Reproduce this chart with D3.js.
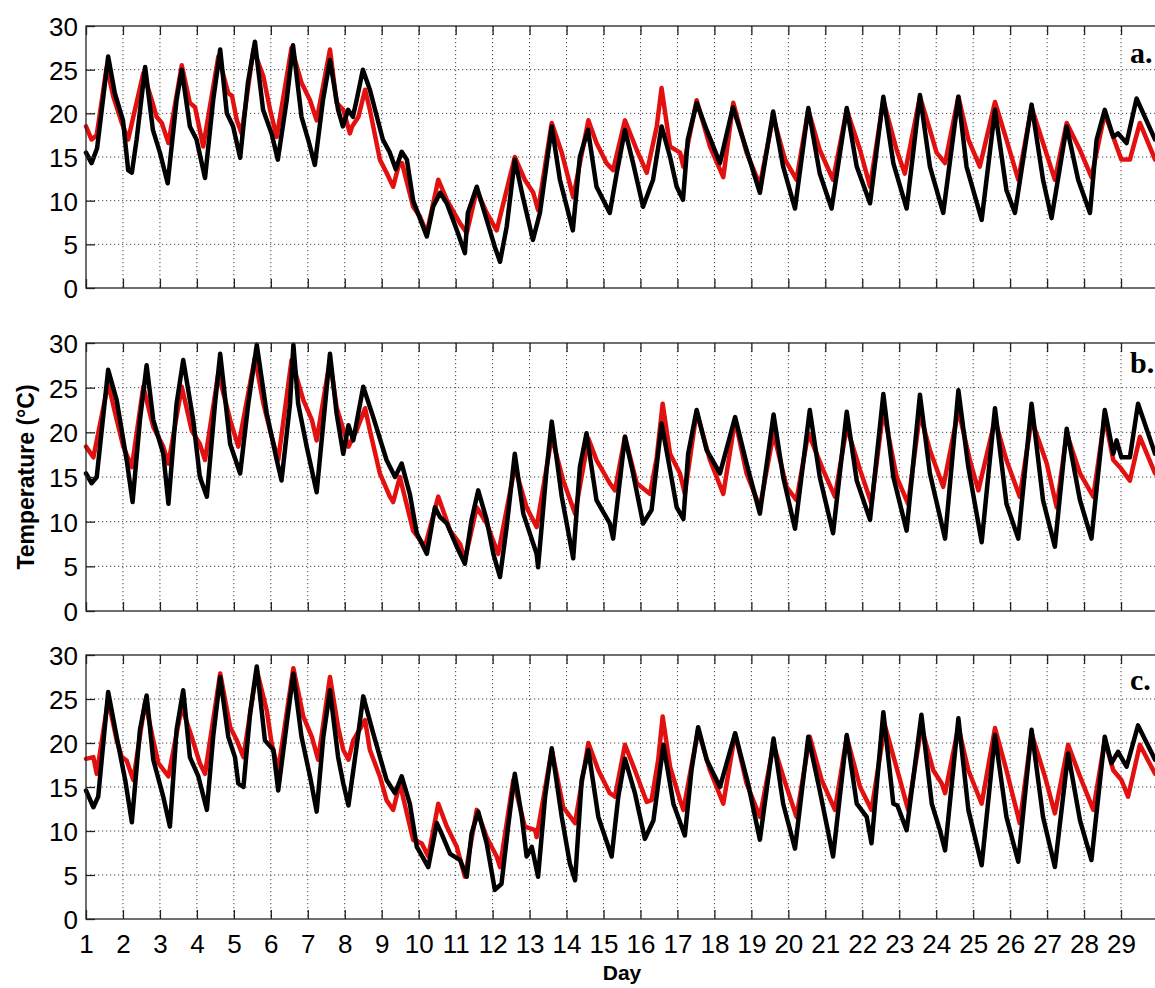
<!DOCTYPE html>
<html>
<head>
<meta charset="utf-8">
<script src="https://cdn.jsdelivr.net/npm/d3@7"></script>
<style>
  html, body { margin: 0; padding: 0; background: #fff; }
  svg { display: block; }
</style>
</head>
<body>
<svg id="chart" width="1155" height="988"></svg>
<script>
// ---------------- DATA ----------------
const dayTicks = [1,2,3,4,5,6,7,8,9,10,11,12,13,14,15,16,17,18,19,20,21,22,23,24,25,26,27,28,29];
const tempTicks = [0,5,10,15,20,25,30];
const panelLabels = ["a.", "b.", "c."];

// Panel a
const aBlackDay = [1.00,1.15,1.30,1.60,1.78,2.00,2.14,2.24,2.37,2.60,2.81,3.00,3.21,3.45,3.59,3.81,3.99,4.22,4.44,4.63,4.81,4.98,5.17,5.38,5.57,5.79,6.02,6.19,6.43,6.60,6.83,7.01,7.19,7.41,7.60,7.82,7.95,8.09,8.22,8.32,8.49,8.68,9.03,9.22,9.38,9.54,9.68,9.85,10.22,10.39,10.58,10.76,10.93,11.06,11.25,11.33,11.57,11.84,12.06,12.20,12.38,12.60,12.82,13.09,13.28,13.60,13.82,14.17,14.36,14.58,14.81,15.17,15.36,15.58,15.80,16.07,16.34,16.57,16.80,16.98,17.15,17.28,17.52,17.79,18.15,18.50,18.87,19.23,19.59,19.86,20.18,20.54,20.85,21.17,21.58,21.85,22.21,22.57,22.84,23.20,23.56,23.83,24.19,24.60,24.82,25.23,25.59,25.90,26.13,26.58,26.89,27.12,27.53,27.84,28.16,28.34,28.56,28.79,28.92,29.15,29.42,29.92];
const aBlackVal = [15.5,14.3,16.0,26.5,22.3,19.2,13.5,13.2,17.0,25.3,18.1,15.5,12.0,21.5,25.0,18.5,17.0,12.6,21.5,27.3,20.0,18.5,14.9,23.5,28.2,20.4,17.7,14.7,21.5,27.8,19.6,17.0,14.1,21.5,26.1,20.4,18.5,20.4,19.6,21.5,25.0,22.7,17.0,15.5,13.6,15.6,14.7,10.0,5.9,9.3,10.9,9.7,7.8,6.3,4.0,8.6,11.6,7.8,4.7,3.0,7.0,14.7,10.4,5.5,8.6,18.5,12.4,6.6,15.0,18.1,11.6,8.6,13.2,18.1,14.3,9.3,12.4,18.5,15.0,11.6,10.1,17.0,21.2,18.1,14.3,20.7,15.8,10.9,20.2,13.9,9.1,20.6,13.1,9.1,20.6,13.9,9.7,21.9,14.3,9.1,22.1,13.9,8.6,21.9,13.9,7.8,20.4,11.2,8.6,21.0,12.4,8.0,18.5,12.4,8.6,17.0,20.4,17.3,17.7,16.6,21.7,17.0];
const aRedDay = [1.00,1.15,1.29,1.56,1.74,1.97,2.14,2.55,2.78,2.91,3.05,3.23,3.59,3.81,3.95,4.17,4.58,4.85,4.95,5.08,5.21,5.53,5.80,5.98,6.16,6.56,6.83,7.06,7.24,7.60,7.78,7.96,8.14,8.20,8.37,8.55,8.68,8.95,9.13,9.31,9.45,9.55,9.85,10.03,10.22,10.53,10.76,11.12,11.30,11.57,11.84,12.11,12.60,12.87,13.10,13.23,13.60,13.87,14.18,14.59,14.81,15.08,15.26,15.58,15.90,16.17,16.44,16.57,16.80,17.07,17.16,17.52,17.88,18.24,18.51,18.87,19.23,19.59,19.91,20.22,20.54,20.85,21.21,21.58,21.94,22.21,22.57,22.93,23.15,23.56,23.83,24.01,24.24,24.60,24.87,25.18,25.59,25.90,26.22,26.58,26.89,27.21,27.53,27.89,28.20,28.56,28.88,29.01,29.24,29.51,29.92];
const aRedVal = [18.5,17.0,17.5,25.3,21.9,18.9,17.0,24.6,21.5,19.6,18.9,16.6,25.5,21.2,20.7,16.2,26.5,22.3,22.0,19.2,17.7,27.3,24.2,20.4,17.3,27.5,23.5,21.5,19.2,27.3,21.2,20.4,17.7,18.5,19.6,22.7,20.4,14.7,13.2,11.6,13.9,14.3,9.3,8.2,6.3,12.4,10.1,7.4,6.3,11.2,8.6,6.6,15.0,12.4,10.9,8.9,18.9,15.5,10.4,19.2,16.6,14.3,13.5,19.2,15.8,13.2,18.5,22.9,16.2,15.5,13.9,21.5,16.2,12.7,21.2,15.5,11.8,19.6,14.7,12.4,20.4,15.8,12.4,20.4,15.8,11.6,21.5,15.8,13.1,21.9,18.1,15.5,14.3,21.9,17.0,13.9,21.3,17.0,12.4,20.7,16.6,12.4,18.9,15.8,12.7,20.0,16.2,14.7,14.7,18.9,14.7];

// Panel b
const bBlackDay = [1.00,1.15,1.29,1.60,1.83,2.10,2.26,2.46,2.64,2.82,3.09,3.23,3.45,3.63,3.90,4.08,4.27,4.49,4.63,4.90,5.17,5.39,5.62,5.89,6.16,6.29,6.52,6.61,6.74,6.97,7.24,7.47,7.60,7.78,7.96,8.10,8.23,8.50,8.77,9.13,9.36,9.54,9.76,9.95,10.22,10.44,10.58,10.76,11.03,11.25,11.43,11.61,11.84,12.02,12.20,12.38,12.60,12.83,13.19,13.23,13.46,13.60,13.87,14.18,14.36,14.54,14.81,15.17,15.26,15.58,15.80,16.07,16.30,16.57,16.80,16.98,17.16,17.29,17.52,17.79,18.15,18.56,18.87,19.23,19.60,19.86,20.18,20.58,20.85,21.21,21.58,21.85,22.21,22.57,22.84,23.20,23.56,23.83,24.24,24.60,24.87,25.23,25.59,25.90,26.22,26.58,26.89,27.21,27.53,27.89,28.20,28.56,28.79,28.88,29.01,29.24,29.46,29.92];
const bBlackVal = [15.4,14.3,15.0,27.0,23.6,16.9,12.2,21.4,27.5,21.4,17.6,12.0,23.2,28.1,21.4,15.0,12.8,23.2,28.8,18.7,15.4,23.2,29.8,22.1,16.9,14.6,23.2,29.8,23.2,18.4,13.3,23.2,28.8,22.1,17.6,20.8,19.1,25.1,21.7,16.9,15.0,16.5,13.1,8.7,6.4,11.6,10.5,9.8,7.2,5.3,10.2,13.5,10.2,6.4,3.8,9.4,17.6,10.9,6.4,4.9,15.8,21.2,12.8,5.9,16.1,19.9,12.4,9.8,8.1,19.5,15.4,9.8,11.3,21.0,15.8,11.6,10.3,17.6,22.5,18.0,15.4,21.7,16.5,10.9,22.0,15.0,9.2,22.5,15.0,8.7,22.3,14.6,10.2,24.3,15.0,9.0,24.2,15.4,8.1,24.7,16.1,7.7,22.7,12.0,8.1,23.2,12.4,7.2,20.4,12.4,8.1,22.5,17.6,19.1,17.2,17.2,23.2,17.6];
const bRedDay = [1.00,1.20,1.60,1.83,2.01,2.24,2.55,2.82,3.09,3.23,3.59,3.86,4.08,4.22,4.58,4.90,5.12,5.57,5.80,5.98,6.20,6.56,6.88,7.11,7.24,7.60,7.78,8.10,8.32,8.55,8.68,8.95,9.22,9.31,9.49,9.85,10.17,10.53,10.85,11.12,11.25,11.57,11.84,12.15,12.60,12.92,13.19,13.60,13.91,14.23,14.59,14.81,15.17,15.31,15.58,15.90,16.26,16.44,16.60,16.80,17.07,17.20,17.52,17.88,18.24,18.56,18.87,19.23,19.60,19.95,20.22,20.54,20.94,21.26,21.58,21.94,22.25,22.57,22.93,23.24,23.56,23.83,24.19,24.60,24.91,25.14,25.59,25.90,26.26,26.58,26.99,27.26,27.53,27.89,28.25,28.56,28.79,28.97,29.24,29.51,29.92];
const bRedVal = [18.4,17.2,25.5,21.4,18.4,16.1,25.1,20.6,18.4,16.5,25.1,20.2,18.7,16.9,26.6,21.4,18.4,28.4,23.2,20.2,16.9,28.1,23.6,21.4,19.1,28.1,22.8,18.4,20.2,22.7,20.2,15.4,12.8,12.2,15.0,9.0,7.2,12.8,9.0,7.5,5.7,11.6,9.8,6.4,16.1,11.6,9.4,19.5,14.6,10.9,19.3,16.9,14.3,13.5,19.5,14.3,13.1,17.2,23.2,17.6,15.4,13.1,22.3,16.9,13.1,21.4,15.4,11.6,19.9,13.9,12.4,19.9,15.8,12.8,20.6,15.8,12.0,22.5,15.0,12.0,22.1,18.0,13.9,22.5,16.9,13.5,21.4,16.9,12.8,21.4,16.5,11.6,19.9,15.4,12.8,21.7,16.9,16.1,14.6,19.5,15.4];

// Panel c
const cBlackDay = [1.00,1.20,1.33,1.60,1.83,2.06,2.24,2.46,2.64,2.82,3.09,3.27,3.45,3.63,3.81,4.04,4.27,4.44,4.63,4.85,5.03,5.12,5.26,5.44,5.62,5.84,6.07,6.20,6.43,6.61,6.83,7.06,7.24,7.42,7.60,7.82,7.96,8.10,8.32,8.50,8.77,9.13,9.36,9.54,9.76,9.95,10.26,10.49,10.62,10.85,11.12,11.30,11.43,11.61,11.84,12.06,12.24,12.42,12.60,12.79,12.92,13.06,13.23,13.42,13.60,13.87,14.09,14.23,14.41,14.59,14.86,15.22,15.40,15.58,15.85,16.12,16.35,16.62,16.89,17.20,17.38,17.56,17.79,18.15,18.56,18.91,19.23,19.60,19.86,20.18,20.54,20.85,21.21,21.58,21.85,22.12,22.25,22.57,22.84,22.95,23.20,23.60,23.88,24.10,24.24,24.60,24.87,25.23,25.59,25.90,26.22,26.58,26.89,27.21,27.57,27.89,28.20,28.56,28.74,28.92,29.15,29.46,29.92];
const cBlackVal = [14.6,12.7,13.9,25.8,20.7,15.8,11.0,21.5,25.4,18.1,13.9,10.5,21.5,26.0,18.4,16.2,12.4,20.7,27.5,20.7,18.4,15.4,15.0,23.4,28.7,20.3,19.2,14.6,22.2,27.9,20.7,16.2,12.2,20.7,26.0,18.4,15.4,12.9,19.6,25.3,21.1,15.8,14.3,16.2,13.1,8.2,5.9,10.9,9.7,7.4,6.7,4.8,9.7,12.2,8.6,3.3,4.0,10.5,16.5,11.6,7.1,8.2,4.8,13.9,19.4,11.6,6.3,4.4,15.8,19.2,11.6,7.1,13.9,18.2,14.3,9.1,11.2,19.8,13.1,9.5,16.9,21.8,18.1,15.0,21.1,15.4,9.0,20.5,13.1,8.0,20.7,14.6,7.1,20.9,13.1,11.6,8.6,23.5,13.1,12.9,10.1,23.2,13.1,10.1,7.8,22.8,12.4,6.1,20.9,11.6,6.5,21.5,11.6,5.9,18.8,11.2,6.7,20.7,17.7,19.0,17.3,22.0,18.1];
const cRedDay = [1.00,1.20,1.29,1.60,1.83,1.97,2.10,2.28,2.60,2.82,2.96,3.23,3.59,3.86,4.08,4.22,4.63,4.90,5.08,5.26,5.62,5.89,6.02,6.20,6.61,6.88,7.11,7.28,7.60,7.82,7.96,8.10,8.23,8.55,8.68,8.95,9.13,9.31,9.49,9.85,10.08,10.26,10.53,10.76,11.03,11.25,11.57,11.84,12.11,12.20,12.56,12.87,13.15,13.19,13.60,13.91,14.23,14.59,14.86,15.17,15.31,15.58,15.85,16.17,16.30,16.48,16.60,16.80,17.07,17.16,17.56,17.88,18.24,18.56,18.87,19.23,19.60,19.86,20.22,20.58,20.90,21.26,21.58,21.94,22.25,22.61,23.02,23.24,23.60,23.92,24.15,24.24,24.60,24.87,25.23,25.59,25.90,26.26,26.58,26.94,27.21,27.57,27.89,28.25,28.56,28.79,29.01,29.19,29.51,29.92];
const cRedVal = [18.2,18.4,16.5,24.9,20.3,18.4,18.0,15.8,24.7,20.3,17.7,16.2,24.1,20.7,17.7,16.5,27.9,21.8,20.3,18.4,28.3,23.7,20.0,16.9,28.5,23.0,20.7,18.1,27.5,21.8,19.2,18.1,20.3,22.6,19.2,16.2,13.5,12.4,15.4,9.0,8.6,7.1,13.1,10.5,8.2,4.8,12.4,9.3,7.1,5.9,15.8,10.5,10.1,9.3,19.2,12.7,10.9,20.0,16.9,14.3,13.9,19.8,16.9,13.3,13.5,18.1,23.0,17.3,13.5,12.4,21.5,16.9,13.1,21.1,15.4,11.6,19.8,16.2,11.6,20.7,15.8,12.4,20.7,15.0,12.4,22.0,15.8,12.4,21.8,16.9,15.4,14.3,21.8,16.9,13.1,21.7,16.9,10.9,21.1,16.2,12.0,19.8,16.2,12.4,20.3,16.9,15.8,13.9,19.8,16.5];

// ---------------- CHART ----------------
const svg = d3.select("#chart");
svg.append("rect").attr("width", 1155).attr("height", 988).attr("fill", "#fff");

const xLeft = 86, xRight = 1158;
const x = d3.scaleLinear().domain([1, 30]).range([xLeft, xRight]);

const panels = [
  { top: 26,  bottom: 288, black: [aBlackDay, aBlackVal], red: [aRedDay, aRedVal], label: panelLabels[0], labelY: 63, showX: false },
  { top: 343, bottom: 611, black: [bBlackDay, bBlackVal], red: [bRedDay, bRedVal], label: panelLabels[1], labelY: 373, showX: false },
  { top: 655, bottom: 919, black: [cBlackDay, cBlackVal], red: [cRedDay, cRedVal], label: panelLabels[2], labelY: 690, showX: true }
];

const gridColor = "#444";
const font = "'Liberation Sans', Arial, Helvetica, sans-serif";

panels.forEach(p => {
  const y = d3.scaleLinear().domain([0, 30]).range([p.bottom, p.top]);
  const g = svg.append("g");

  // grid (dotted)
  g.append("g").selectAll("line").data(dayTicks.slice(1)).join("line")
    .attr("x1", d => x(d)).attr("x2", d => x(d))
    .attr("y1", p.top).attr("y2", p.bottom)
    .attr("stroke", gridColor).attr("stroke-width", 1).attr("stroke-dasharray", "1.2,2.8");
  g.append("g").selectAll("line").data(tempTicks.slice(1, -1)).join("line")
    .attr("x1", xLeft).attr("x2", xRight)
    .attr("y1", d => y(d)).attr("y2", d => y(d))
    .attr("stroke", gridColor).attr("stroke-width", 1).attr("stroke-dasharray", "1.2,2.8");

  // lines
  const mkLine = (days, vals) => d3.line()
    .x((d, i) => x(days[i]))
    .y((d, i) => y(vals[i]))(vals);
  g.append("path").attr("d", mkLine(p.red[0], p.red[1]))
    .attr("fill", "none").attr("stroke", "#e31010").attr("stroke-width", 4.5)
    .attr("stroke-linejoin", "round").attr("stroke-linecap", "round");
  g.append("path").attr("d", mkLine(p.black[0], p.black[1]))
    .attr("fill", "none").attr("stroke", "#000").attr("stroke-width", 4.5)
    .attr("stroke-linejoin", "round").attr("stroke-linecap", "round");

  // frame
  g.append("rect").attr("x", xLeft).attr("y", p.top)
    .attr("width", xRight - xLeft).attr("height", p.bottom - p.top)
    .attr("fill", "none").attr("stroke", "#222").attr("stroke-width", 1.3);

  // inside ticks (bottom & top)
  const axB = d3.axisBottom(x).tickValues(dayTicks).tickSizeInner(-9).tickSizeOuter(0)
    .tickFormat(p.showX ? d3.format("d") : "");
  const gb = g.append("g").attr("transform", `translate(0,${p.bottom})`).call(axB);
  gb.select(".domain").remove();
  gb.selectAll(".tick line").attr("stroke", "#222").attr("stroke-width", 1.3);
  gb.selectAll("text").attr("font-family", font).attr("font-size", 26)
    .attr("fill", "#000").attr("dy", 0).attr("y", 34);

  const axT = d3.axisTop(x).tickValues(dayTicks).tickSizeInner(-9).tickSizeOuter(0).tickFormat("");
  const gt = g.append("g").attr("transform", `translate(0,${p.top})`).call(axT);
  gt.select(".domain").remove();
  gt.selectAll(".tick line").attr("stroke", "#222").attr("stroke-width", 1.3);

  // y axis
  const axL = d3.axisLeft(y).tickValues(tempTicks).tickSizeInner(-9).tickSizeOuter(0).tickFormat(d3.format("d"));
  const gl = g.append("g").attr("transform", `translate(${xLeft},0)`).call(axL);
  gl.select(".domain").remove();
  gl.selectAll(".tick line").attr("stroke", "#222").attr("stroke-width", 1.3);
  gl.selectAll("text").attr("font-family", font).attr("font-size", 26)
    .attr("fill", "#000").attr("x", -8).attr("dy", "0.36em");

  // panel label
  g.append("text").attr("x", 1130).attr("y", p.labelY)
    .attr("font-family", "'Liberation Serif', 'Times New Roman', serif")
    .attr("font-weight", "bold").attr("font-size", 30).attr("fill", "#000")
    .text(p.label);
});

// axis titles
svg.append("text").attr("x", 622).attr("y", 980)
  .attr("text-anchor", "middle").attr("font-family", font)
  .attr("font-weight", "bold").attr("font-size", 21).text("Day");

svg.append("text").attr("transform", "translate(34,477) rotate(-90)")
  .attr("text-anchor", "middle").attr("font-family", font)
  .attr("font-weight", "bold").attr("font-size", 23).text("Temperature (°C)");
</script>
</body>
</html>
